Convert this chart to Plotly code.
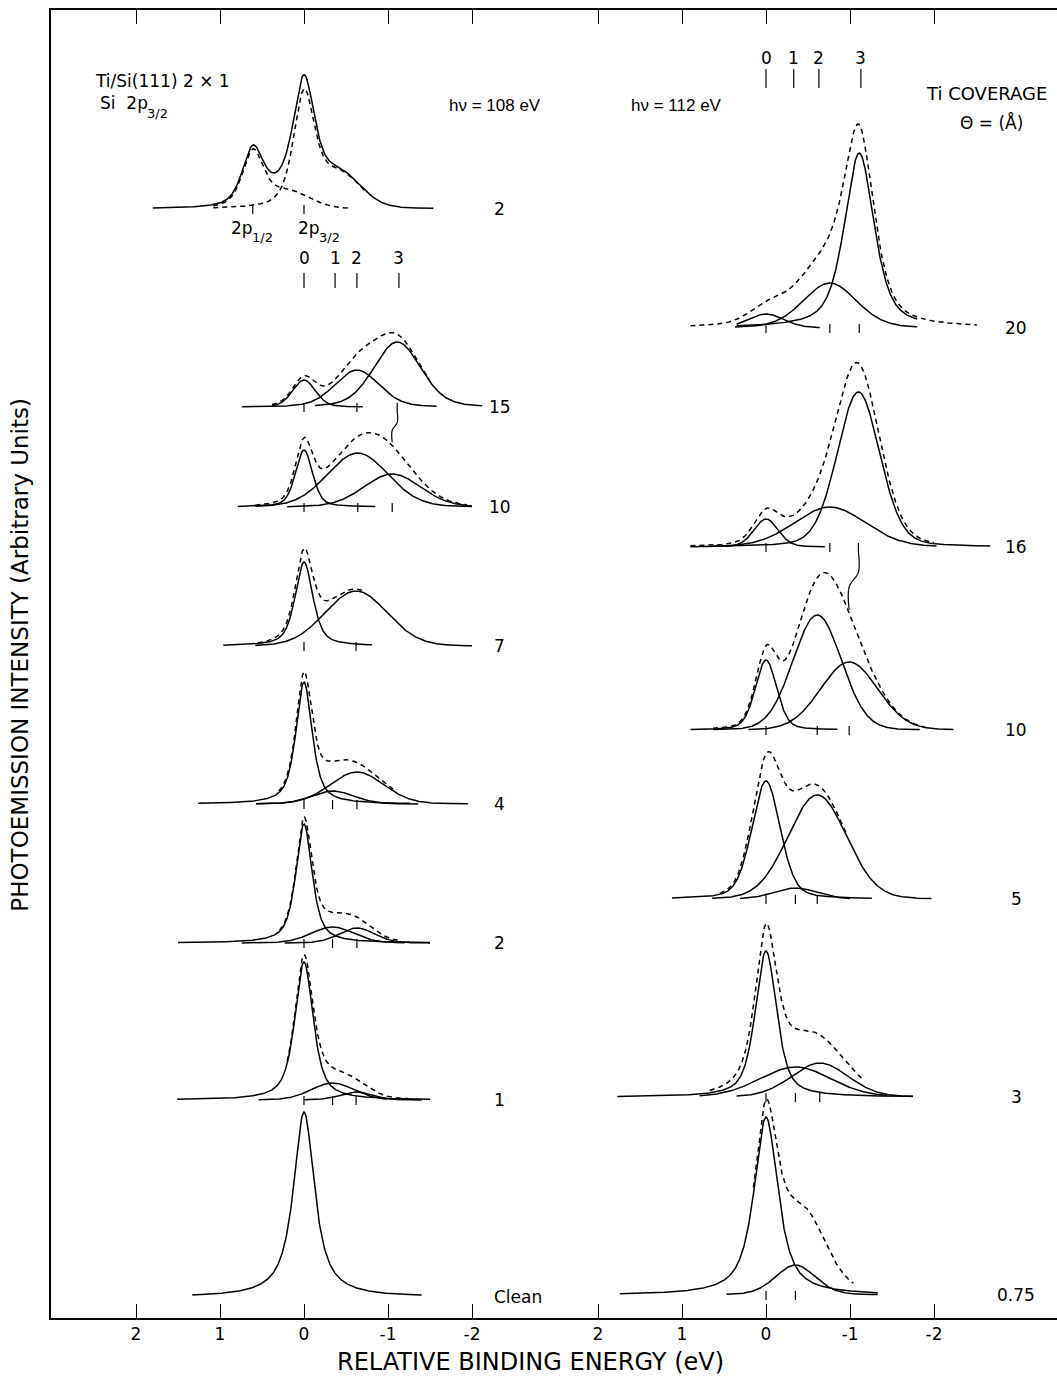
import numpy as np
import plotly.graph_objects as go

# ---------------------------------------------------------------- data
E_TICKS = [2, 1, 0, -1, -2]
E_TICK_TEXT = ["2", "1", "0", "-1", "-2"]

# top spin-orbit spectrum (hv = 108 eV, coverage 2)
# peaks: (centre eV, height, FWHM eV, Lorentzian fraction)
SO_LABEL = "2"
SO_BASE = 1109
SO_P32 = [(0.00, 112, 0.30, 0.6), (-0.42, 32, 0.60, 0.0)]
SO_P12 = [(0.61, 56, 0.30, 0.6), (0.19, 16, 0.60, 0.0)]
SO_SPAN_TOTAL = (1.80, -1.54)
SO_SPAN_P32 = (1.08, -0.73)
SO_SPAN_P12 = (1.08, -0.55)

# left column, hv = 108 eV
LEFT_LABELS = ["15", "10", "7", "4", "2", "1"]
LEFT_BASES = [911, 811, 672, 514, 375, 218]
LEFT_PEAKS = [
    [(0.00, 27, 0.32, 0.2), (-0.63, 37, 0.62, 0.2), (-1.11, 65, 0.66, 0.2)],
    [(0.00, 57, 0.24, 0.4), (-0.64, 54, 0.85, 0.1), (-1.05, 33, 0.80, 0.1)],
    [(0.00, 84, 0.25, 0.6), (-0.62, 55, 0.87, 0.05)],
    [(0.00, 122, 0.23, 0.7), (-0.34, 13, 0.60, 0.1), (-0.63, 32, 0.75, 0.1)],
    [(0.00, 119, 0.23, 0.7), (-0.34, 16, 0.60, 0.1), (-0.63, 15, 0.50, 0.1)],
    [(0.00, 138, 0.26, 0.7), (-0.34, 17, 0.60, 0.1), (-0.62, 8, 0.45, 0.1)],
]
LEFT_SPANS = [
    [(0.38, -0.70), (0.74, -1.58), (-0.13, -2.12)],
    [(0.79, -0.85), (0.58, -2.00), (0.20, -2.00)],
    [(0.96, -0.81), (0.58, -2.00)],
    [(1.26, -1.26), (0.57, -1.36), (0.57, -1.95)],
    [(1.50, -1.50), (0.74, -1.20), (0.23, -1.50)],
    [(1.51, -1.50), (0.54, -0.99), (0.00, -1.40)],
]
LEFT_ENV_SPANS = [(0.38, -1.50), (0.58, -1.94), (0.55, -0.70),
                  (0.30, -1.10), (0.29, -1.14), (0.20, -1.25)]

CLEAN_LABEL = "Clean"
CLEAN_BASE = 21
CLEAN_PEAK = (0.00, 185, 0.30, 0.9)
CLEAN_SPAN = (1.33, -1.40)

# right column, hv = 112 eV
RIGHT_LABELS = ["20", "16", "10", "5", "3", "0.75"]
RIGHT_BASES = [990, 771, 588, 419, 221, 23]
RIGHT_PEAKS = [
    [(0.00, 14, 0.50, 0.2), (-0.76, 45, 0.75, 0.2), (-1.11, 175, 0.42, 0.6)],
    [(0.00, 28, 0.34, 0.2), (-0.76, 40, 1.00, 0.1), (-1.10, 155, 0.60, 0.2)],
    [(0.00, 70, 0.30, 0.3), (-0.61, 115, 0.68, 0.05), (-0.99, 68, 0.80, 0.05)],
    [(0.00, 118, 0.40, 0.3), (-0.35, 11, 0.60, 0.1), (-0.61, 104, 0.82, 0.05)],
    [(0.00, 146, 0.30, 0.6), (-0.35, 30, 1.00, 0.1), (-0.64, 34, 0.80, 0.1)],
    [(0.00, 178, 0.34, 0.8), (-0.35, 30, 0.56, 0.2)],
]
RIGHT_SPANS = [
    [(0.35, -0.64), (0.37, -1.80), (0.35, -1.80)],
    [(0.90, -0.70), (0.63, -2.03), (0.50, -2.67)],
    [(0.90, -0.85), (0.63, -1.83), (0.21, -2.23)],
    [(1.12, -1.26), (0.31, -1.00), (0.64, -1.97)],
    [(1.77, -1.75), (0.79, -1.44), (0.35, -1.75)],
    [(1.74, -1.33), (0.47, -1.33)],
]
RIGHT_ENV_SPANS = [(0.90, -2.51), (0.90, -2.00), (0.63, -1.90),
                   (0.55, -0.95), (0.67, -1.15), (0.15, -1.04)]
# intensity in the measured (dashed) curve not covered by drawn components
RIGHT_EXTRA = [[(-0.50, 15, 0.80, 0.5)], [], [], [], [], [(-0.52, 46, 0.60, 0.2)]]

# component-position markers (0,1,2,3)
MARK_TEXT = ["0", "1", "2", "3"]
LEFT_MARK_E = [0.0, -0.37, -0.63, -1.13]
RIGHT_MARK_E = [0.0, -0.33, -0.63, -1.13]

# ---------------------------------------------------------------- helpers
BLACK = "black"
LW = 1.5
DASH = "5px,4px"
FONT = "Liberation Sans, Arial, sans-serif"
WIDE = "DejaVu Sans, Liberation Sans, sans-serif"


def pv(e, c, h, w, eta):
    lor = 1.0 / (1.0 + ((e - c) / (w / 2.0)) ** 2)
    gau = np.exp(-4.0 * np.log(2.0) * ((e - c) / w) ** 2)
    return h * (eta * lor + (1.0 - eta) * gau)


def total(e, peaks):
    out = np.zeros_like(e)
    for p in peaks:
        out = out + pv(e, *p)
    return out


def grid(span, n=400):
    return np.linspace(span[0], span[1], n)


fig = go.Figure()


def add_line(x, y, axis, dash=None):
    fig.add_trace(go.Scatter(
        x=x, y=y, mode="lines", xaxis=axis, yaxis="y",
        line=dict(color=BLACK, width=LW, dash=dash if dash else "solid"),
        hoverinfo="skip", showlegend=False))


def add_ticks(centres, base, axis, up=4, down=5):
    xs, ys = [], []
    for c in centres:
        xs += [c, c, None]
        ys += [base + up, base - down, None]
    fig.add_trace(go.Scatter(x=xs, y=ys, mode="lines", xaxis=axis, yaxis="y",
                             line=dict(color=BLACK, width=1.2),
                             hoverinfo="skip", showlegend=False))


# ---- top spin-orbit spectrum
e = grid(SO_SPAN_TOTAL)
add_line(e, SO_BASE + total(e, SO_P32 + SO_P12), "x")
e = grid(SO_SPAN_P32)
add_line(e, SO_BASE + total(e, SO_P32), "x", DASH)
e = grid(SO_SPAN_P12)
add_line(e, SO_BASE + total(e, SO_P12), "x", DASH)
add_ticks([SO_P12[0][0], SO_P32[0][0]], SO_BASE, "x")


def draw_column(labels, bases, peaks, spans, env_spans, extras, axis):
    for i in range(len(labels)):
        base = bases[i]
        for p, sp in zip(peaks[i], spans[i]):
            e = grid(sp)
            add_line(e, base + pv(e, *p), axis)
        e = grid(env_spans[i])
        add_line(e, base + total(e, peaks[i] + extras[i]), axis, DASH)
        add_ticks([p[0] for p in peaks[i]], base, axis)


draw_column(LEFT_LABELS, LEFT_BASES, LEFT_PEAKS, LEFT_SPANS, LEFT_ENV_SPANS,
            [[] for _ in LEFT_LABELS], "x")
draw_column(RIGHT_LABELS, RIGHT_BASES, RIGHT_PEAKS, RIGHT_SPANS, RIGHT_ENV_SPANS,
            RIGHT_EXTRA, "x2")

# clean spectrum
e = grid(CLEAN_SPAN)
add_line(e, CLEAN_BASE + pv(e, *CLEAN_PEAK), "x")


# connectors between the coverage-3 components of adjacent spectra
def connector(axis, peaks_a, base_a, peaks_b, base_b, env_extra_b):
    xa = peaks_a[2][0]
    xb = peaks_b[2][0]
    ya = base_a - 5
    yb = base_b + total(np.array([xb]), peaks_b + env_extra_b)[0] + 3
    dy = ya - yb
    xs = [xa, xa, xb, xb]
    ys = [ya, ya - 0.35 * dy, yb + 0.4 * dy, yb]
    fig.add_trace(go.Scatter(x=xs, y=ys, mode="lines", xaxis=axis, yaxis="y",
                             line=dict(color=BLACK, width=1.2, shape="spline"),
                             hoverinfo="skip", showlegend=False))


connector("x", LEFT_PEAKS[0], LEFT_BASES[0], LEFT_PEAKS[1], LEFT_BASES[1], [])
connector("x2", RIGHT_PEAKS[1], RIGHT_BASES[1], RIGHT_PEAKS[2], RIGHT_BASES[2],
          RIGHT_EXTRA[2])

annots = []


def txt(x, y, text, axis, anchor="center", size=17, family=FONT, shift=0):
    annots.append(dict(x=x, y=y, xref=axis, yref="y", text=text, showarrow=False,
                       xanchor=anchor, yanchor="middle", xshift=shift,
                       font=dict(size=size, family=family, color=BLACK)))


# 0 1 2 3 markers
for axis, marks, ylab, ytop, ybot in [("x", LEFT_MARK_E, 1060, 1045, 1030),
                                      ("x2", RIGHT_MARK_E, 1260, 1249, 1230)]:
    xs, ys = [], []
    for m in marks:
        xs += [m, m, None]
        ys += [ytop, ybot, None]
    fig.add_trace(go.Scatter(x=xs, y=ys, mode="lines", xaxis=axis, yaxis="y",
                             line=dict(color=BLACK, width=1.2),
                             hoverinfo="skip", showlegend=False))
    for m, t in zip(marks, MARK_TEXT):
        txt(m, ylab, t, axis, size=17, family=WIDE)

# ---------------------------------------------------------------- text
txt(-2.33, SO_BASE, SO_LABEL, "x", family=WIDE)
for lab, b in zip(LEFT_LABELS, LEFT_BASES):
    txt(-2.33, b, lab, "x", family=WIDE)
txt(-2.24, CLEAN_BASE, CLEAN_LABEL, "x", anchor="left", family=WIDE)
for lab, b in zip(RIGHT_LABELS, RIGHT_BASES):
    txt(-2.98, b, lab, "x2", family=WIDE)

# 2p labels with subscripts (main part right-anchored, subscript left-anchored)
txt(0.607, 1090, "2p", "x", anchor="right", size=17, family=WIDE, shift=2)
txt(0.607, 1081, "1/2", "x", anchor="left", size=13, family=WIDE, shift=-3)
txt(-0.19, 1090, "2p", "x", anchor="right", size=17, family=WIDE, shift=2)
txt(-0.19, 1081, "3/2", "x", anchor="left", size=13, family=WIDE, shift=-3)
txt(2.512, 1237, "Ti/Si(111) 2 × 1", "x", anchor="left", size=17, family=WIDE)
txt(1.86, 1215, "Si\u00a0\u00a02p", "x", anchor="right", size=17, family=WIDE, shift=2)
txt(1.86, 1205, "3/2", "x", anchor="left", size=13, family=WIDE, shift=-3)
txt(-2.27, 1213, "hν = 108 eV", "x")
txt(1.06, 1213, "hν = 112 eV", "x2")
txt(-2.63, 1225, "Ti COVERAGE", "x2", size=18, family=WIDE)
txt(-2.69, 1196, "Θ = (Å)", "x2", family=WIDE)

annots.append(dict(x=0.477, y=-0.034, xref="paper", yref="paper",
                   text="RELATIVE BINDING ENERGY (eV)", showarrow=False,
                   xanchor="center", yanchor="middle",
                   font=dict(size=24, family=WIDE, color=BLACK)))
annots.append(dict(x=-0.031, y=0.507, xref="paper", yref="paper",
                   text="PHOTOEMISSION INTENSITY (Arbitrary Units)", showarrow=False,
                   textangle=-90, xanchor="center", yanchor="middle",
                   font=dict(size=23, family=WIDE, color=BLACK)))
for a in annots:
    fig.add_annotation(**a)

# ---------------------------------------------------------------- layout
W, H = 1057, 1376
ML, MR, MT, MB = 51, 0, 10, 58
PW = W - ML - MR
SPLIT_PX = 540
f = (SPLIT_PX - ML) / PW
PX_PER_EV = 84.0
LEFT_ZERO_PX = 304
RIGHT_ZERO_PX = 766

left_range = [(LEFT_ZERO_PX - ML) / PX_PER_EV, (LEFT_ZERO_PX - SPLIT_PX) / PX_PER_EV]
right_range = [(RIGHT_ZERO_PX - SPLIT_PX) / PX_PER_EV, (RIGHT_ZERO_PX - W) / PX_PER_EV]

xcommon = dict(tickvals=E_TICKS, ticktext=E_TICK_TEXT, ticks="inside", ticklen=14,
               tickwidth=1.2, tickcolor=BLACK, showline=True, linecolor=BLACK,
               linewidth=1.5, mirror="ticks", showgrid=False, zeroline=False,
               tickfont=dict(size=17, family=WIDE, color=BLACK), anchor="y")

fig.update_layout(
    width=W, height=H,
    margin=dict(l=ML, r=MR, t=MT, b=MB, pad=0),
    paper_bgcolor="white", plot_bgcolor="white",
    xaxis=dict(domain=[0, f], range=left_range, **xcommon),
    xaxis2=dict(domain=[f, 1], range=right_range, **xcommon),
    yaxis=dict(range=[0, H - MT - MB], showline=True, linecolor=BLACK, linewidth=1.5,
               showticklabels=False, ticks="", showgrid=False, zeroline=False),
    showlegend=False,
)

fig.write_html("out.html")
